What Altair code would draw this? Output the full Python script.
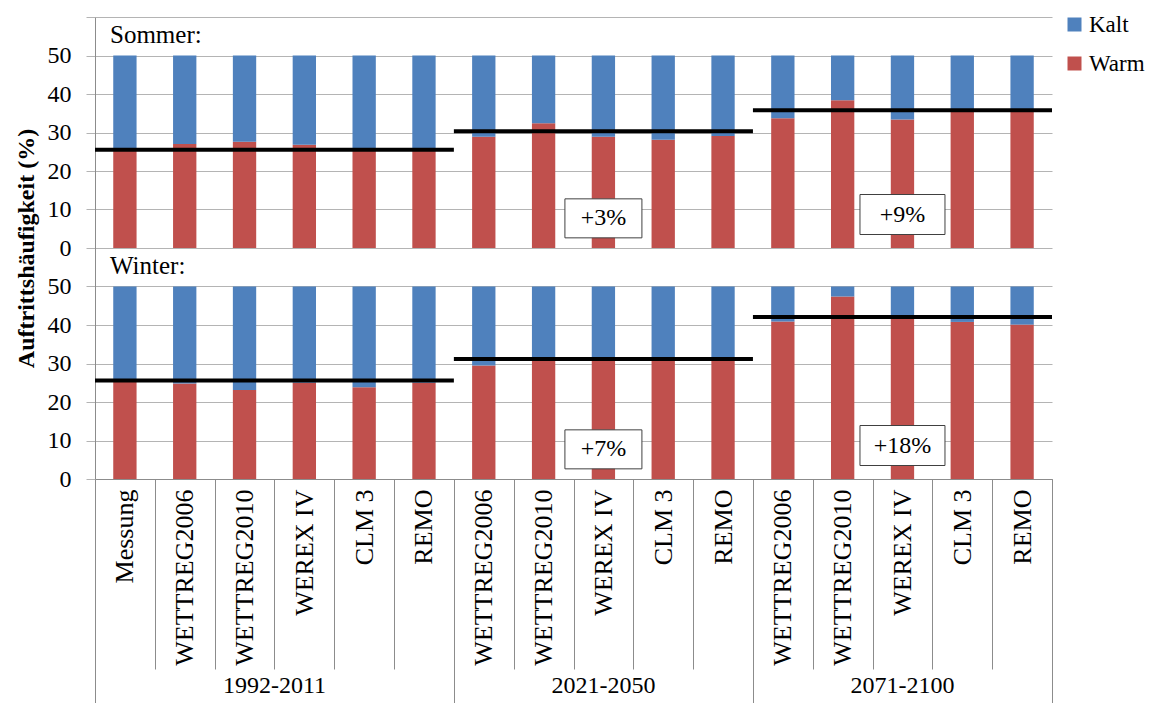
import altair as alt
import pandas as pd

# ---------------- data ----------------
periods = ["1992-2011", "2021-2050", "2071-2100"]
models_1992 = ["Messung", "WETTREG2006", "WETTREG2010", "WEREX IV", "CLM 3", "REMO"]
models_2021 = ["WETTREG2006", "WETTREG2010", "WEREX IV", "CLM 3", "REMO"]
models_2071 = ["WETTREG2006", "WETTREG2010", "WEREX IV", "CLM 3", "REMO"]

sommer_warm = [25.6, 27.0, 27.6, 26.8, 25.6, 25.6, 28.9, 32.4, 28.9, 28.1, 29.1, 33.7, 38.4, 33.4, 35.6, 35.6]
sommer_kalt = [24.4, 23.0, 22.4, 23.2, 24.4, 24.4, 21.1, 17.6, 21.1, 21.9, 20.9, 16.3, 11.6, 16.6, 14.4, 14.4]
winter_warm = [25.3, 24.8, 23.1, 25.0, 23.8, 25.0, 29.5, 31.0, 31.0, 31.0, 31.0, 40.9, 47.4, 41.6, 40.8, 40.1]
winter_kalt = [24.7, 25.2, 26.9, 25.0, 26.2, 25.0, 20.5, 19.0, 19.0, 19.0, 19.0, 9.1, 2.6, 8.4, 9.2, 9.9]

sommer_mittel = [25.5, 30.3, 35.8]
winter_mittel = [25.6, 31.2, 42.1]
sommer_aenderung = ["", "+3%", "+9%"]
winter_aenderung = ["", "+7%", "+18%"]

# ---------------- layout constants ----------------
FONT = "Liberation Serif"
GRAY = "#8c8c8c"
GRID = "#b4b4b4"
BLUE = "#4F81BD"
RED = "#C0504D"
SOMMER_OFFSET = 60  # Sommer panel sits above the Winter panel on one axis
YTITLE = "Auftrittshäufigkeit (%)"

model_groups = [models_1992, models_2021, models_2071]

# ---------------- tables ----------------
keys, bar_rows, period_rows = [], [], []
i = 0
for p, ms in zip(periods, model_groups):
    start = i
    for m in ms:
        key = f"{p}|{m}"
        keys.append(key)
        for season, warm, kalt, off in (("Sommer", sommer_warm[i], sommer_kalt[i], SOMMER_OFFSET),
                                         ("Winter", winter_warm[i], winter_kalt[i], 0)):
            bar_rows.append({"key": key, "season": season, "kind": "Warm", "y0": off, "y1": off + warm})
            bar_rows.append({"key": key, "season": season, "kind": "Kalt", "y0": off + warm, "y1": off + warm + kalt})
        i += 1
    period_rows.append({"period": p, "start": start, "end": i, "mid": (start + i) / 2})
bar_df = pd.DataFrame(bar_rows)
period_df = pd.DataFrame(period_rows)

mean_rows, box_rows = [], []
for k, p in enumerate(periods):
    for season, means, changes, off in (("Sommer", sommer_mittel, sommer_aenderung, SOMMER_OFFSET),
                                        ("Winter", winter_mittel, winter_aenderung, 0)):
        mean_rows.append({"period": p, "season": season, "start": period_rows[k]["start"],
                          "end": period_rows[k]["end"], "ypos": off + means[k]})
        if changes[k]:
            box_rows.append({"period": p, "season": season, "label": changes[k],
                             "mid": period_rows[k]["mid"], "ybox": off + (7.7 if k == 1 else 8.7)})
mean_df = pd.DataFrame(mean_rows)
box_df = pd.DataFrame(box_rows)
season_df = pd.DataFrame({"label": ["Sommer:", "Winter:"], "ylab": [SOMMER_OFFSET + 53.3, 53.3]})

def yscale():
    return alt.Scale(domain=[0, 120], nice=False, zero=True)

XQ = alt.Scale(domain=[0, 16], nice=False, zero=False)

# ---------------- bars ----------------
bars = alt.Chart(bar_df).mark_bar(width=alt.RelativeBandSize(0.39)).encode(
    x=alt.X("key:N", sort=keys, title=None,
            scale=alt.Scale(paddingInner=0, paddingOuter=0),
            axis=alt.Axis(labelExpr="split(datum.value, '|')[1]", labelAngle=270,
                          labelAlign="right", labelBaseline="middle", labelPadding=-180,
                          tickBand="extent", tickSize=190, tickColor=GRAY, domainColor=GRAY,
                          labelFont=FONT, labelFontSize=26, labelColor="black",
                          labelOverlap=False, labelLimit=400, grid=False)),
    y=alt.Y("y0:Q", scale=yscale(), title=YTITLE,
            axis=alt.Axis(values=list(range(0, 121, 10)),
                          labelExpr="datum.value <= 50 ? datum.value : (datum.value <= 110 ? datum.value - 60 : '')",
                          grid=True, gridColor=GRID, tickSize=9, tickColor=GRID, domainColor=GRAY,
                          labelFont=FONT, labelFontSize=24, labelColor="black", labelPadding=15,
                          labelOverlap=False, labelBound=False, labelFlush=False,
                          titleFont=FONT, titleFontSize=24, titleFontWeight="bold", titleColor="black",
                          titlePadding=9)),
    y2="y1:Q",
    color=alt.Color("kind:N", scale=alt.Scale(domain=["Kalt", "Warm"], range=[BLUE, RED]),
                    legend=alt.Legend(orient="none", legendX=968, legendY=-4, title=None,
                                      symbolType="square", symbolSize=196, symbolStrokeWidth=0,
                                      labelFont=FONT, labelFontSize=23, labelColor="black",
                                      labelOffset=3, rowPadding=15, padding=0, direction="vertical")),
)

# ---------------- period-level layers ----------------
rules = alt.Chart(mean_df).mark_rule(color="black", strokeWidth=4).encode(
    x=alt.X("start:Q", scale=XQ, title=None,
            axis=alt.Axis(orient="bottom", values=[0, 6, 11, 16], tickSize=224, tickColor=GRAY,
                          labels=False, domain=False, grid=False)),
    x2="end:Q",
    y=alt.Y("ypos:Q", scale=yscale(), axis=None),
)

group_labels = alt.Chart(period_df).mark_text(font=FONT, fontSize=24, color="black", baseline="middle").encode(
    x=alt.X("mid:Q", scale=XQ, title=None),
    y=alt.value(669),
    text="period:N",
)

box_a = alt.Chart(box_df).transform_filter(alt.datum.period == "2021-2050").mark_rect(
    width=77, height=39, fill="white", stroke="#404040", strokeWidth=1).encode(
    x=alt.X("mid:Q", scale=XQ, title=None),
    y=alt.Y("ybox:Q", scale=yscale(), axis=None),
)
box_b = alt.Chart(box_df).transform_filter(alt.datum.period == "2071-2100").mark_rect(
    width=85, height=40, fill="white", stroke="#404040", strokeWidth=1).encode(
    x=alt.X("mid:Q", scale=XQ, title=None),
    y=alt.Y("ybox:Q", scale=yscale(), axis=None),
)
box_text = alt.Chart(box_df).mark_text(font=FONT, fontSize=24, color="black", baseline="middle").encode(
    x=alt.X("mid:Q", scale=XQ, title=None),
    y=alt.Y("ybox:Q", scale=yscale(), axis=None),
    text="label:N",
)

panel_labels = alt.Chart(season_df).mark_text(font=FONT, fontSize=25, color="black",
                                              align="left", baseline="alphabetic").encode(
    x=alt.value(15),
    y=alt.Y("ylab:Q", scale=yscale(), axis=None),
    text="label:N",
)

quant = alt.layer(rules, group_labels, box_a, box_b, box_text, panel_labels)

chart = alt.layer(bars, quant).resolve_scale(x="independent", y="independent").properties(
    width=957, height=462,
    autosize=alt.AutoSizeParams(type="none"),
    padding={"left": 87, "top": 9, "right": 97, "bottom": 224},
).configure(font=FONT).configure_view(stroke=None).configure_text(font=FONT).configure_legend(
    labelFont=FONT).configure_axis(labelFont=FONT, titleFont=FONT).configure_axisY(labelOverlap=False)

chart.save("out.html", embed_options={"renderer": "svg", "actions": False})
